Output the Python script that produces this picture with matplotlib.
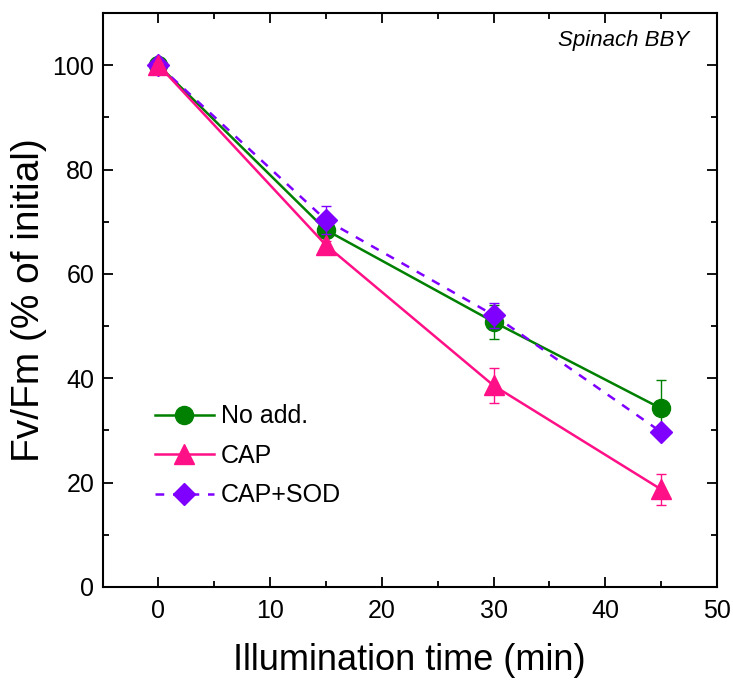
import matplotlib.pyplot as plt

plt.rcParams['font.family'] = ['Liberation Sans', 'DejaVu Sans']

time = [0, 15, 30, 45]

no_add = [100, 68.4, 50.8, 34.2]
no_add_err = [0.5, 1.0, 3.3, 5.4]

cap = [100, 65.5, 38.6, 18.7]
cap_err = [0.5, 0.8, 3.4, 3.0]

cap_sod = [100, 70.3, 52.1, 29.7]
cap_sod_err = [0.5, 2.7, 2.4, 0.5]

fig = plt.figure(figsize=(7.33, 6.84), dpi=100)
ax = fig.add_axes([0.140, 0.142, 0.838, 0.839])

ax.errorbar(time, no_add, yerr=no_add_err, color='#008000', marker='o', ms=13,
            lw=1.8, elinewidth=1, capsize=3.5, label='No add.', zorder=2)
ax.errorbar(time, cap, yerr=cap_err, color='#FF1087', marker='^', ms=15,
            lw=1.8, elinewidth=1, capsize=3.5, label='CAP', zorder=4)
ax.errorbar(time, cap_sod, yerr=cap_sod_err, color='#8000FF', marker='D', ms=11,
            lw=1.8, ls=(0, (3.5, 3.5)), elinewidth=1, capsize=3.5,
            label='CAP+SOD', zorder=3)

ax.set_xlim(-5, 50)
ax.set_ylim(0, 110)
ax.set_xticks([0, 10, 20, 30, 40, 50])
ax.set_xticks([-5, 5, 15, 25, 35, 45], minor=True)
ax.set_yticks([0, 20, 40, 60, 80, 100])
ax.set_yticks([10, 30, 50, 70, 90], minor=True)
ax.tick_params(which='both', direction='in', top=True, right=True, width=1.3)
ax.tick_params(which='major', length=7, labelsize=18)
ax.tick_params(axis='x', which='major', pad=9)
ax.tick_params(axis='y', which='major', pad=6)
ax.tick_params(which='minor', length=4)
for s in ax.spines.values():
    s.set_linewidth(1.5)

ax.set_xlabel('Illumination time (min)', fontsize=26, labelpad=14)
ax.set_ylabel('Fv/Fm (% of initial)', fontsize=28, labelpad=4)

ax.text(0.955, 0.97, 'Spinach BBY', transform=ax.transAxes, ha='right', va='top',
        fontsize=16, style='italic')

handles, labels = ax.get_legend_handles_labels()
handles = [h[0] for h in handles]
ax.legend(handles, labels, loc='upper left', bbox_to_anchor=(0.085, 0.318),
          frameon=False, fontsize=18, handlelength=2.35, handletextpad=0.3,
          labelspacing=0.62, borderpad=0, borderaxespad=0)

fig.savefig('out.png', dpi=100)
